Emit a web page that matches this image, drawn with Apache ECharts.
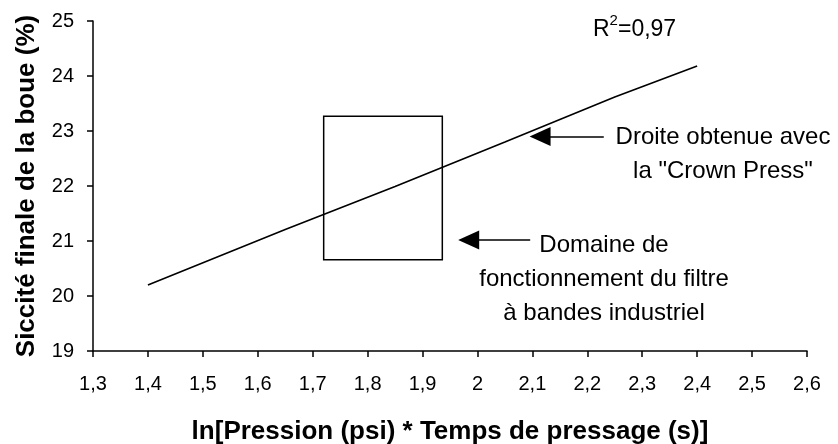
<!DOCTYPE html>
<html>
<head>
<meta charset="utf-8">
<script src="https://cdn.jsdelivr.net/npm/echarts@6/dist/echarts.min.js"></script>
<style>
  html, body { margin: 0; padding: 0; background: #fff; }
  #chart { width: 838px; height: 444px; }
</style>
</head>
<body>
<div id="chart"></div>
<script>
  // fitted line
  var lineX = [1.4, 1.65, 1.85, 2.05, 2.25, 2.4];
  var lineY = [20.2, 21.21, 21.99, 22.8, 23.62, 24.18];

  // operating domain box [xmin, xmax, ymin, ymax]
  var boxX = [1.72, 1.936];
  var boxY = [20.66, 23.27];

  // arrows: [tail x, tip x, y]
  var arrowCrown = [2.23, 2.096, 22.9];
  var arrowDomain = [2.096, 1.966, 21.02];

  var font = "'Liberation Sans', Arial, sans-serif";
  var headLen = 0.018; // arrow head is centred on the end point, push it back

  var points = [];
  for (var i = 0; i < lineX.length; i++) {
    points.push([lineX[i], lineY[i]]);
  }

  function arrow(a) {
    return [
      { coord: [a[0], a[2]], symbol: "none" },
      { coord: [a[1] + headLen, a[2]], symbol: "triangle", symbolSize: [19, 21] }
    ];
  }

  var myChart = echarts.init(document.getElementById("chart"));
  myChart.setOption({
    animation: false,
    backgroundColor: "#fff",
    grid: { left: 93, right: 31, top: 21, bottom: 93, containLabel: false, outerBoundsMode: "none" },
    xAxis: {
      type: "value",
      min: 1.3,
      max: 2.6,
      interval: 0.1,
      name: "ln[Pression (psi) * Temps de pressage (s)]",
      nameLocation: "middle",
      nameGap: 68,
      nameTextStyle: { fontFamily: font, fontSize: 26, fontWeight: "bold", color: "#000" },
      axisLine: { lineStyle: { color: "#000", width: 1.5 } },
      axisTick: { length: 6, lineStyle: { color: "#000", width: 1.5 } },
      axisLabel: {
        margin: 23,
        fontFamily: font,
        fontSize: 20,
        color: "#000",
        formatter: function (v) { return String(Math.round(v * 10) / 10).replace(".", ","); }
      },
      splitLine: { show: false }
    },
    yAxis: {
      type: "value",
      min: 19,
      max: 25,
      interval: 1,
      name: "Siccité finale de la boue (%)",
      nameLocation: "middle",
      nameGap: 53,
      nameTextStyle: { fontFamily: font, fontSize: 26, fontWeight: "bold", color: "#000" },
      axisLine: { show: true, lineStyle: { color: "#000", width: 1.5 } },
      axisTick: { show: true, length: 6, lineStyle: { color: "#000", width: 1.5 } },
      axisLabel: { margin: 19, fontFamily: font, fontSize: 20, color: "#000" },
      splitLine: { show: false }
    },
    series: [
      {
        type: "line",
        data: points,
        symbol: "none",
        lineStyle: { color: "#000", width: 1.6 },
        markArea: {
          silent: true,
          itemStyle: { color: "rgba(0,0,0,0)", borderColor: "#000", borderWidth: 1.5 },
          data: [[{ coord: [boxX[0], boxY[1]] }, { coord: [boxX[1], boxY[0]] }]]
        },
        markLine: {
          silent: true,
          animation: false,
          label: { show: false },
          lineStyle: { color: "#000", width: 1.5, type: "solid" },
          itemStyle: { color: "#000" },
          data: [arrow(arrowCrown), arrow(arrowDomain)]
        }
      }
    ],
    graphic: [
      {
        type: "text",
        x: 723, y: 120,
        style: {
          text: 'Droite obtenue avec\nla "Crown Press"',
          font: "24px " + font,
          fill: "#000",
          textAlign: "center",
          textVerticalAlign: "top",
          lineHeight: 34
        }
      },
      {
        type: "text",
        x: 604, y: 228,
        style: {
          text: "Domaine de\nfonctionnement du filtre\nà bandes industriel",
          font: "24px " + font,
          fill: "#000",
          textAlign: "center",
          textVerticalAlign: "top",
          lineHeight: 34
        }
      },
      {
        type: "text",
        x: 593, y: 13,
        style: {
          text: "{r|R}{s|2}{r|=0,97}",
          textVerticalAlign: "top",
          rich: {
            r: { fontFamily: font, fontSize: 23, lineHeight: 28, color: "#000", verticalAlign: "bottom" },
            s: { fontFamily: font, fontSize: 15, lineHeight: 15, color: "#000", verticalAlign: "top" }
          }
        }
      }
    ]
  });
</script>
</body>
</html>
